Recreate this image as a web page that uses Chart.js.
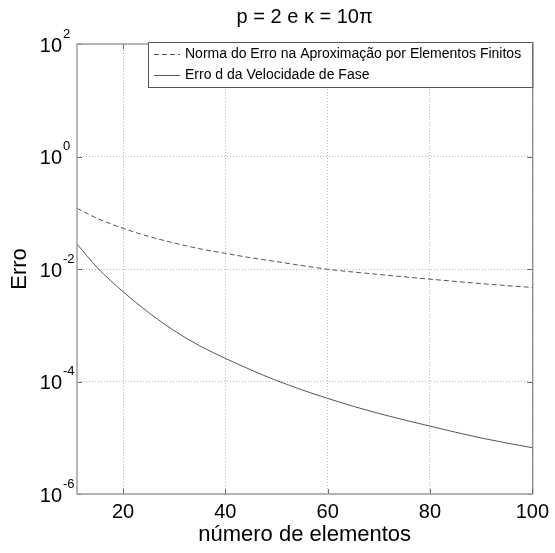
<!DOCTYPE html>
<html>
<head>
<meta charset="utf-8">
<script src="https://cdn.jsdelivr.net/npm/chart.js@4/dist/chart.umd.min.js"></script>
<style>
  html, body { margin: 0; padding: 0; background: #fff; }
  #wrap { width: 555px; height: 553px; }
</style>
</head>
<body>
<div id="wrap"><canvas id="myChart" width="555" height="553"></canvas></div>
<script>
const elementos = [11, 15, 20, 25, 30, 35, 40, 45, 50, 60, 70, 80, 90, 100];
const erroNorma = [0.12, 0.079, 0.053, 0.038, 0.029, 0.0229, 0.019, 0.0158, 0.0135, 0.0099, 0.0080, 0.0066, 0.0055, 0.0047];
const erroFase = [0.0278, 0.0105, 0.00395, 0.00168, 8.0e-4, 4.3e-4, 2.58e-4, 1.61e-4, 1.04e-4, 5.0e-5, 2.7e-5, 1.61e-5, 9.9e-6, 6.65e-6];
const xTicks = [20, 40, 60, 80, 100];
const yTicks = [1e-6, 1e-4, 1e-2, 1e0, 1e2];
const labels = ['Norma do Erro na Aproximação por Elementos Finitos', 'Erro d da Velocidade de Fase'];
const titulo = 'p = 2 e κ = 10π';

const FONT = "'Liberation Sans', Arial, Helvetica, sans-serif";

function toPoints (xs, ys) {
    return xs.map((x, i) => ({ x: x, y: ys[i] }));
}

// title, tick labels 10^n, matlab style frame, inner ticks and legend box
const matlabDecor = {
    id: 'matlabDecor',
    afterDraw (chart) {
        const ctx = chart.ctx;
        const area = chart.chartArea;
        const xs = chart.scales.x;
        const ys = chart.scales.y;

        ctx.save();

        // title centred over the axes
        ctx.fillStyle = '#000';
        ctx.font = '20px ' + FONT;
        ctx.textAlign = 'center';
        ctx.textBaseline = 'middle';
        ctx.fillText(titulo, (area.left + area.right) / 2, 17);

        // inner tick marks
        ctx.strokeStyle = '#666';
        ctx.lineWidth = 1;
        ctx.beginPath();
        xTicks.forEach(v => {
            const px = Math.round(xs.getPixelForValue(v)) + 0.5;
            ctx.moveTo(px, area.bottom); ctx.lineTo(px, area.bottom - 5);
            ctx.moveTo(px, area.top); ctx.lineTo(px, area.top + 5);
        });
        yTicks.forEach(v => {
            const py = Math.round(ys.getPixelForValue(v)) + 0.5;
            ctx.moveTo(area.left, py); ctx.lineTo(area.left + 5, py);
            ctx.moveTo(area.right, py); ctx.lineTo(area.right - 5, py);
        });
        ctx.stroke();

        // frame
        ctx.lineWidth = 1.5;
        ctx.strokeStyle = '#a0a0a0';
        ctx.beginPath();
        ctx.moveTo(area.right, area.top);
        ctx.lineTo(area.left, area.top);
        ctx.lineTo(area.left, area.bottom);
        ctx.lineTo(area.right, area.bottom);
        ctx.stroke();
        ctx.strokeStyle = '#666';
        ctx.lineWidth = 1;
        ctx.beginPath();
        ctx.moveTo(area.right + 0.5, area.top);
        ctx.lineTo(area.right + 0.5, area.bottom);
        ctx.stroke();

        // y tick labels with exponent
        ctx.fillStyle = '#000';
        yTicks.forEach(v => {
            const py = ys.getPixelForValue(v);
            const exp = Math.round(Math.log10(v));
            ctx.font = '20px ' + FONT;
            ctx.textAlign = 'right';
            ctx.textBaseline = 'middle';
            ctx.fillText('10', 62, py + 2);
            ctx.font = '13px ' + FONT;
            ctx.textAlign = 'left';
            ctx.fillText(String(exp), 63, py - 10);
        });

        // legend
        const lx = 148, ly = 42, lw = area.right - 148, lh = 45;
        ctx.fillStyle = '#fff';
        ctx.fillRect(lx, ly, lw, lh);
        ctx.strokeStyle = '#555';
        ctx.lineWidth = 1;
        ctx.strokeRect(lx + 0.5, ly + 0.5, lw, lh);
        chart.data.datasets.forEach((ds, i) => {
            const cy = ly + 12 + i * 21;
            ctx.strokeStyle = ds.borderColor;
            ctx.setLineDash(ds.borderDash || []);
            ctx.beginPath();
            ctx.moveTo(lx + 6, cy + 0.5);
            ctx.lineTo(lx + 32, cy + 0.5);
            ctx.stroke();
            ctx.setLineDash([]);
            ctx.fillStyle = '#000';
            ctx.font = '14px ' + FONT;
            ctx.textAlign = 'left';
            ctx.textBaseline = 'middle';
            ctx.fillText(ds.label, lx + 37, cy);
        });

        ctx.restore();
    }
};

const data = {
    datasets: [{
        label: labels[0],
        data: toPoints(elementos, erroNorma),
        borderColor: '#555',
        borderWidth: 1,
        borderDash: [5, 3],
        pointRadius: 0,
        cubicInterpolationMode: 'monotone'
    }, {
        label: labels[1],
        data: toPoints(elementos, erroFase),
        borderColor: '#555',
        borderWidth: 1,
        pointRadius: 0,
        cubicInterpolationMode: 'monotone'
    }]
};

const config = {
    type: 'line',
    data,
    plugins: [matlabDecor],
    options: {
        responsive: false,
        animation: false,
        layout: { padding: { left: 0, right: 21, top: 44, bottom: 0 } },
        plugins: {
            legend: { display: false },
            tooltip: { enabled: false },
            title: { display: false }
        },
        scales: {
            x: {
                type: 'linear',
                min: 11,
                max: 100,
                afterBuildTicks: scale => { scale.ticks = xTicks.map(v => ({ value: v })); },
                afterFit: scale => { scale.height = 59; },
                grid: { color: '#b8b8b8', lineWidth: 1, drawTicks: false },
                border: { display: false, dash: [1, 2] },
                ticks: {
                    color: '#000',
                    padding: 6,
                    maxRotation: 0,
                    font: { family: FONT, size: 20 }
                },
                title: {
                    display: true,
                    text: 'número de elementos',
                    color: '#000',
                    font: { family: FONT, size: 22 },
                    padding: { top: 0, bottom: 5 }
                }
            },
            y: {
                type: 'logarithmic',
                min: 1e-6,
                max: 1e2,
                afterBuildTicks: scale => { scale.ticks = yTicks.map(v => ({ value: v })); },
                afterFit: scale => { scale.width = 77; },
                grid: { color: '#b8b8b8', lineWidth: 1, drawTicks: false },
                border: { display: false, dash: [1, 2] },
                ticks: { display: false },
                title: {
                    display: true,
                    text: 'Erro',
                    color: '#000',
                    font: { family: FONT, size: 22 },
                    padding: { top: 7, bottom: 0 }
                }
            }
        }
    }
};

const myChart = new Chart(document.getElementById('myChart'), config);
</script>
</body>
</html>
